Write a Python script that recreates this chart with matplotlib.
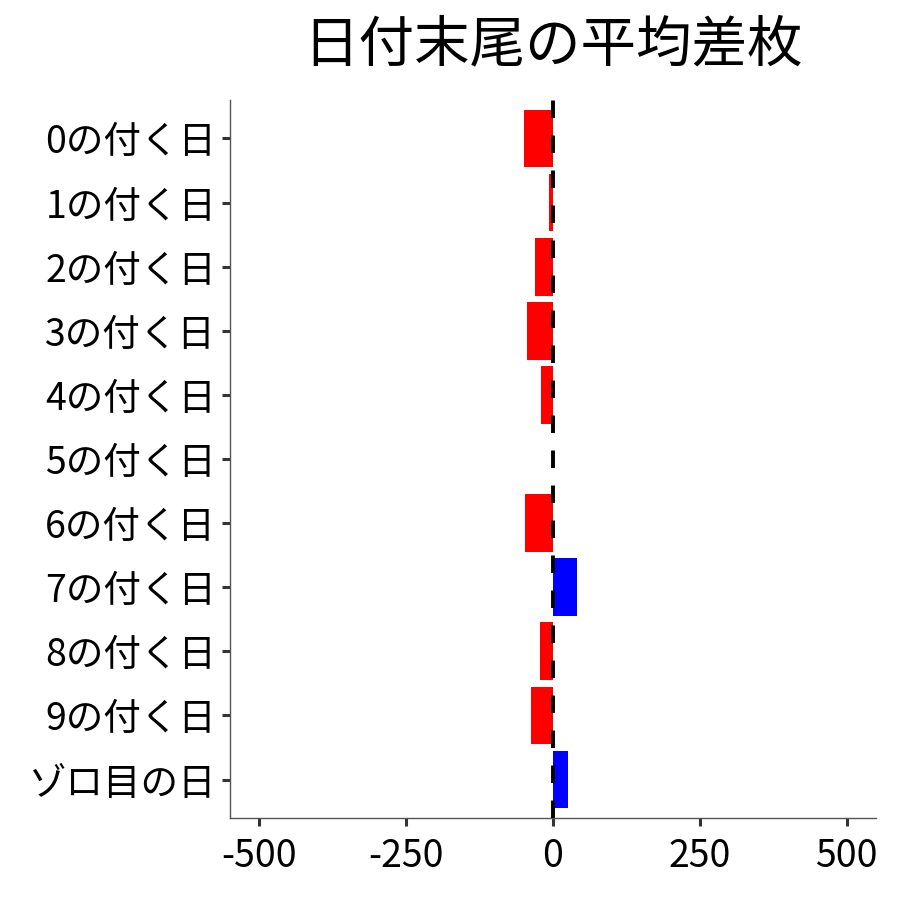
import numpy as np
import matplotlib
matplotlib.use("Agg")
import matplotlib.pyplot as plt

plt.rcParams['font.family'] = ['Noto Sans CJK JP', 'DejaVu Sans']

# 日付末尾ごとの平均差枚
categories = ['0の付く日', '1の付く日', '2の付く日', '3の付く日', '4の付く日',
              '5の付く日', '6の付く日', '7の付く日', '8の付く日', '9の付く日',
              'ゾロ目の日']
values = [-49, -7, -31, -44, -20, 0, -48, 41, -22, -37, 26]
xticks = [-500, -250, 0, 250, 500]

fig = plt.figure(figsize=(9, 9), dpi=100)
ax = fig.add_axes([0.2556, 0.0911, 0.7178, 0.7978])

y = np.arange(len(categories))
colors = ['blue' if v > 0 else 'red' for v in values]
ax.barh(y, values, height=0.9, color=colors, zorder=2)

# 0の基準線（破線）
ax.axvline(0, color='black', linewidth=2.8, dashes=[4.5, 4.5], zorder=3)

ax.set_yticks(y)
ax.set_yticklabels(categories)
ax.set_ylim(len(categories) - 0.4, -0.6)
ax.set_xticks(xticks)
ax.set_xticklabels([str(t) for t in xticks])
ax.set_xlim(-550, 550)

for s in ['top', 'right']:
    ax.spines[s].set_visible(False)
for s in ['left', 'bottom']:
    ax.spines[s].set_color('#555555')
    ax.spines[s].set_linewidth(1.0)

ax.tick_params(axis='both', colors='#333333', width=2.2, length=6,
               labelsize=27, labelcolor='black')
ax.tick_params(axis='y', pad=4)
ax.tick_params(axis='x', pad=8)

ax.set_title('日付末尾の平均差枚', fontsize=40, pad=28)

fig.savefig('out.png', dpi=100)
